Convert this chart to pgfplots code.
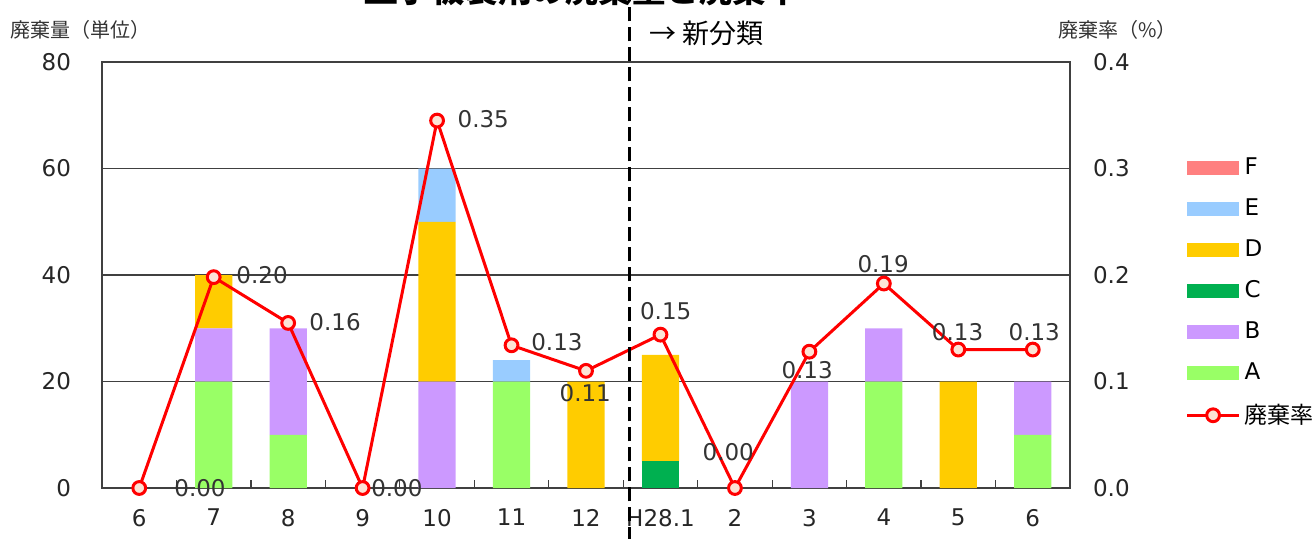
\documentclass[border=0pt]{standalone}
\usepackage{pgfplots}
\pgfplotsset{compat=1.18}
\usepackage{pgfplotstable}
\usepackage{fontspec}
\setmainfont{DejaVu Sans}
\newfontfamily\jp{Noto Sans CJK JP}
\definecolor{cA}{HTML}{99FF66}
\definecolor{cB}{HTML}{CC99FF}
\definecolor{cC}{HTML}{00B050}
\definecolor{cD}{HTML}{FFCC00}
\definecolor{cE}{HTML}{99CCFF}
\definecolor{cF}{HTML}{FF8080}
\definecolor{mk}{HTML}{FCE4D6}
\pgfplotstableread{
x A B C D E F
0 0 0 0 0 0 0
1 20 10 0 10 0 0
2 10 20 0 0 0 0
3 0 0 0 0 0 0
4 0 20 0 30 10 0
5 20 0 0 0 4 0
6 0 0 0 20 0 0
7 0 0 5 20 0 0
8 0 0 0 0 0 0
9 0 20 0 0 0 0
10 20 10 0 0 0 0
11 0 0 0 20 0 0
12 10 10 0 0 0 0
}\bars
\pgfplotstableread{
x r
0 0.000
1 0.198
2 0.155
3 0.000
4 0.345
5 0.134
6 0.110
7 0.144
8 0.000
9 0.128
10 0.192
11 0.130
12 0.130
}\rate
\newcommand\fs{\fontsize{11.5}{13}\selectfont}
\pgfplotsset{
  base/.style={
    scale only axis, width=484pt, height=213pt,
    xmin=-0.5, xmax=12.5,
    every tick label/.append style={font=\fs, text=black!85},
    /pgf/number format/assume math mode=true,
  },
  bar leg/.style={legend image code/.code={\fill[##1, draw=none] (0pt,-3.5pt) rectangle (26pt,3.5pt);}},
  line leg/.style={legend image code/.code={\draw[mark repeat=2,mark phase=2,##1] plot coordinates {(0pt,0pt) (13pt,0pt) (26pt,0pt)};}},
}
\begin{document}
\begin{tikzpicture}
\begin{axis}[base,
  ybar stacked, bar width=0.5,
  ymin=0, ymax=80, ytick={0,20,...,80},
  ymajorgrids, grid style={black!75, line width=0.6pt},
  axis line style={black!75, line width=0.8pt},
  xtick={0,...,12},
  xticklabels={6,7,8,9,10,11,12,H28.1,2,3,4,5,6},
  minor x tick num=1,
  tick pos=left,
  major tick length=0pt,
  minor tick length=4pt,
  minor tick style={black!75, line width=0.6pt},
  tick align=inside,
  xticklabel style={yshift=-7pt},
  yticklabel style={xshift=-12pt},
]
\addplot[fill=cA, draw=none] table[x=x, y=A] {\bars};
\addplot[fill=cB, draw=none] table[x=x, y=B] {\bars};
\addplot[fill=cC, draw=none] table[x=x, y=C] {\bars};
\addplot[fill=cD, draw=none] table[x=x, y=D] {\bars};
\addplot[fill=cE, draw=none] table[x=x, y=E] {\bars};
\addplot[fill=cF, draw=none] table[x=x, y=F] {\bars};
\end{axis}
\begin{axis}[base,
  ymin=0, ymax=0.4, ytick={0,0.1,...,0.4},
  axis x line=none, axis y line*=right,
  axis line style={black!75, line width=0.8pt},
  major tick length=0pt,
  yticklabel style={/pgf/number format/.cd, fixed, fixed zerofill, precision=1, /tikz/.cd, xshift=8pt},
  clip=false,
  legend style={draw=none, fill=none, at={(1.119,0.785)}, anchor=north west,
    font=\fs, row sep=6.6pt, inner sep=0pt,
    /tikz/every even column/.append style={column sep=2pt}},
  legend cell align=left,
]
\addlegendimage{bar leg, fill=cF}
\addlegendimage{bar leg, fill=cE}
\addlegendimage{bar leg, fill=cD}
\addlegendimage{bar leg, fill=cC}
\addlegendimage{bar leg, fill=cB}
\addlegendimage{bar leg, fill=cA}
\addplot[line leg, red, line width=1.5pt, mark=*, mark size=3.2pt, mark options={fill=mk, draw=red, line width=1.5pt}]
  table[x=x, y=r] {\rate};
\legend{F,E,D,C,B,A,{\jp 廃棄率}}
\node[font=\fs, text=black!80] at (axis cs:0.816,0) {0.00};
\node[font=\fs, text=black!80] at (axis cs:1.65,0.200) {0.20};
\node[font=\fs, text=black!80] at (axis cs:2.63,0.156) {0.16};
\node[font=\fs, text=black!80] at (axis cs:3.46,0) {0.00};
\node[font=\fs, text=black!80] at (axis cs:4.62,0.346) {0.35};
\node[font=\fs, text=black!80] at (axis cs:5.61,0.137) {0.13};
\node[font=\fs, text=black!80] at (axis cs:5.99,0.089) {0.11};
\node[font=\fs, text=black!80] at (axis cs:7.07,0.166) {0.15};
\node[font=\fs, text=black!80] at (axis cs:7.91,0.034) {0.00};
\node[font=\fs, text=black!80] at (axis cs:8.97,0.111) {0.13};
\node[font=\fs, text=black!80] at (axis cs:9.99,0.210) {0.19};
\node[font=\fs, text=black!80] at (axis cs:10.99,0.146) {0.13};
\node[font=\fs, text=black!80] at (axis cs:12.02,0.146) {0.13};
\draw[black, line width=1.5pt, dash pattern=on 7pt off 3pt] (axis cs:6.58,-0.05) -- (axis cs:6.58,0.46);
\end{axis}
\node[anchor=west, font=\jp\fontsize{13.5}{15}\selectfont] at (270pt,227.5pt) {→ 新分類};
\node[anchor=west, font=\jp\fontsize{10}{12}\selectfont, text=black!80, inner sep=0pt] at (-46pt,229pt) {廃棄量（単位）};
\node[anchor=west, font=\jp\fontsize{10}{12}\selectfont, text=black!80, inner sep=0pt] at (478pt,229pt) {廃棄率（\%）};
\node[anchor=base, font=\jp\bfseries\fontsize{16.75}{18}\selectfont, inner sep=0pt] at (240pt,243pt) {血小板製剤の廃棄量と廃棄率};
\pgfresetboundingbox
\path[use as bounding box] (-51pt,-25pt) rectangle (605pt,244pt);
\end{tikzpicture}
\end{document}
